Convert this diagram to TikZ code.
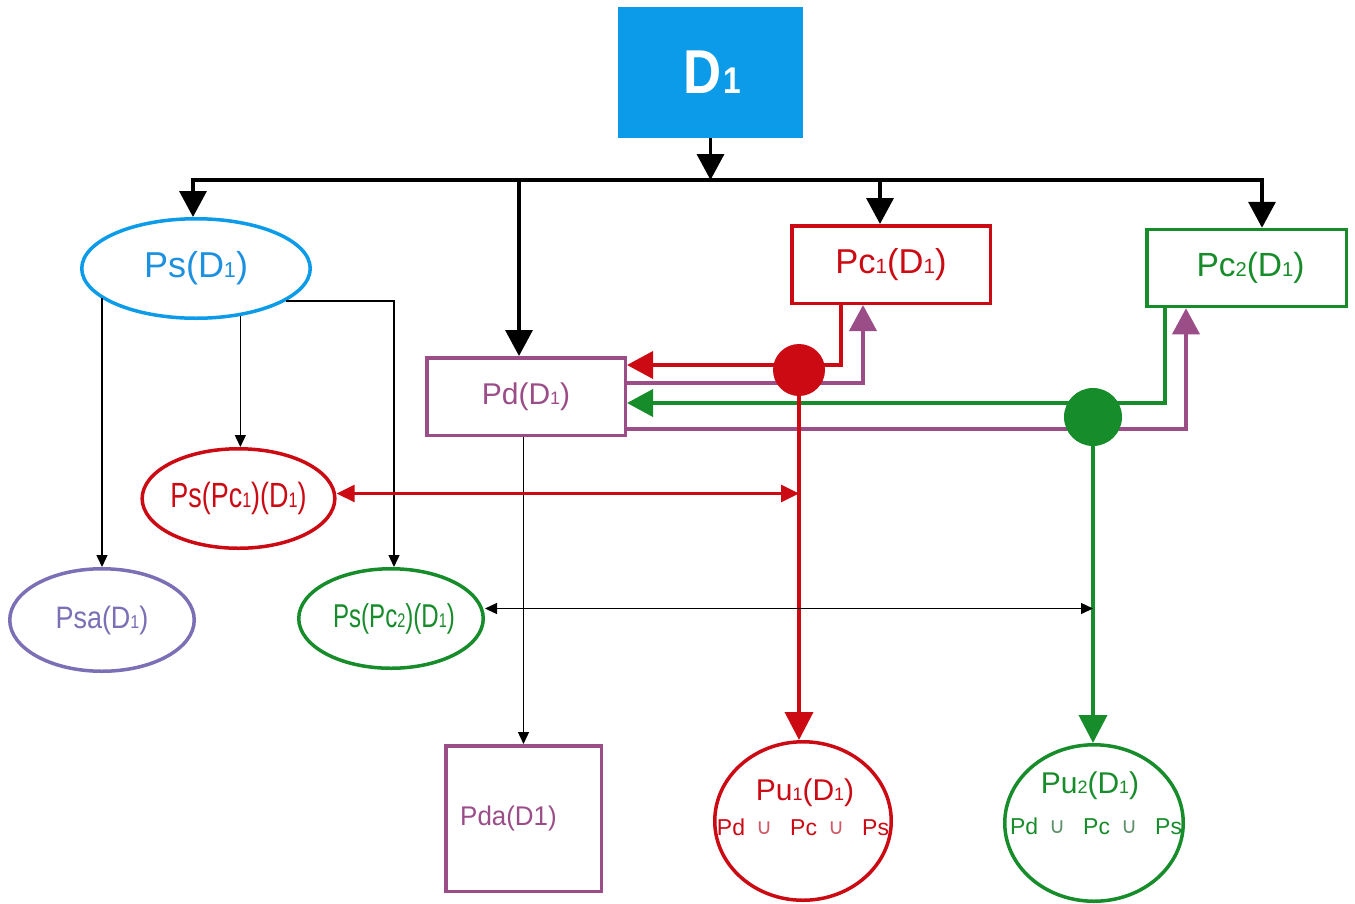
\documentclass[tikz,border=0pt]{standalone}
\usepackage{fontspec}
\setmainfont{Liberation Sans}
\newfontfamily\djv{DejaVu Sans}
\usetikzlibrary{arrows.meta,shapes.geometric,calc}
\definecolor{cblue}{HTML}{0C9BE9}
\definecolor{cbluet}{HTML}{1E90E0}
\definecolor{cred}{HTML}{CC0A14}
\definecolor{cgreen}{HTML}{178C2A}
\definecolor{cpurp}{HTML}{9B4D88}
\definecolor{clav}{HTML}{7C6FB6}
\definecolor{credU}{HTML}{D05A6A}
\definecolor{cgreenU}{HTML}{5F8F6A}
\newcommand{\sbx}[1]{\scalebox{0.6}{#1}}
\newcommand{\fsz}[1]{\fontsize{#1}{#1}\selectfont}
\newcommand{\cupx}[1]{\raisebox{1pt}{\djv\fsz{22}\textcolor{#1}{∪}}}
\begin{document}
\begin{tikzpicture}[x=1pt,y=-1pt,
  boxn/.style={draw,rectangle,line width=3.5pt,inner sep=0pt},
  elln/.style={draw,ellipse,line width=3.5pt,inner sep=0pt},
  bigarr/.style={line width=3.5pt,-{Triangle[length=26pt,width=27pt]}},
  thinarr/.style={line width=1.4pt,-{Triangle[length=12pt,width=11pt]}},
  colline/.style={line width=3.8pt},
  coltip/.style={-{Triangle[length=26pt,width=27pt]}},
]
\useasboundingbox (0,0) rectangle (1355,903);
\fill[white] (0,0) rectangle (1355,903);

% nodes
\node[rectangle,fill=cblue,minimum width=185pt,minimum height=131pt,inner sep=0pt,text=white,font=\fsz{62}\bfseries] (D1) at (710.5,72.5) {\kern4pt\scalebox{0.85}[1]{D\kern2pt\scalebox{0.6}{1}}};
\node[elln,cblue,minimum width=228.5pt,minimum height=99.5pt,text=cbluet,font=\fsz{36}] (Ps) at (196,268.5) {Ps(D\sbx{1})};
\node[boxn,cred,minimum width=198.5pt,minimum height=77.5pt,text=cred,font=\fsz{34.5}] (Pc1) at (891,264.5) {Pc\sbx{1}(D\sbx{1})};
\node[boxn,cgreen,minimum width=199.5pt,minimum height=77pt,text=cgreen,font=\fsz{33.5}] (Pc2) at (1246.5,268) {\kern8pt Pc\sbx{2}(D\sbx{1})};
\node[boxn,cpurp,minimum width=198.5pt,minimum height=77.5pt,text=cpurp,font=\fsz{30}] (Pd) at (526,396.5) {Pd(D\sbx{1})};
\node[elln,cred,minimum width=185.5pt,minimum height=99.5pt,text=cred,font=\fsz{35}] (Psc1) at (238.5,498.5) {\scalebox{0.77}[1]{Ps(Pc\sbx{1})(D\sbx{1})}};
\node[elln,clav,minimum width=184.5pt,minimum height=102.5pt,text=clav,font=\fsz{31}] (Psa) at (102,620) {\scalebox{0.87}[1]{Psa(D\sbx{1})}};
\node[elln,cgreen,minimum width=184.5pt,minimum height=99.5pt,text=cgreen,font=\fsz{33}] (Psc2) at (391,618.5) {\kern6pt\scalebox{0.73}[1]{Ps(Pc\sbx{2})(D\sbx{1})}};
\node[boxn,cpurp,minimum width=155.5pt,minimum height=145.5pt,text=cpurp,font=\fsz{27}] (Pda) at (523.5,818.5) {\scalebox{0.96}[1]{Pda(D1)}\kern30pt\relax};
\node[elln,cred,minimum width=176.5pt,minimum height=158.5pt] (Pu1) at (803,821) {};
\node[elln,cgreen,minimum width=178.5pt,minimum height=156.5pt] (Pu2) at (1094,823) {};
\node[anchor=base,text=cred,font=\fsz{30},inner sep=0pt] (Pu1a) at (805,800) {Pu\sbx{1}(D\sbx{1})};
\node[anchor=base,text=cred,font=\fsz{23},inner sep=0pt] (Pu1b) at (803,835) {Pd\kern11pt\cupx{credU}\kern18pt Pc\kern11pt\cupx{credU}\kern18pt Ps};
\node[anchor=base,text=cgreen,font=\fsz{30},inner sep=0pt] (Pu2a) at (1090,793) {Pu\sbx{2}(D\sbx{1})};
\node[anchor=base,text=cgreen,font=\fsz{23},inner sep=0pt] (Pu2b) at (1096,834) {Pd\kern11pt\cupx{cgreenU}\kern18pt Pc\kern11pt\cupx{cgreenU}\kern18pt Ps};

% bus
\coordinate (bL) at (193,180);
\coordinate (bR) at (1262,180);
\coordinate (bPd) at (519,180);
\coordinate (bPc1) at (880,180);
\draw[line width=3.5pt,line cap=rect] (bL) -- (bR);
\draw[bigarr] (D1.south) -- (D1.south |- bR);
\draw[bigarr] (bL) -- (bL |- Ps.north);
\draw[bigarr] (bPd) -- (bPd |- Pd.north);
\draw[bigarr] (bPc1) -- (bPc1 |- Pc1.north);
\draw[bigarr] (bR) -- (bR |- Pc2.north);

% thin black connectors
\draw[thinarr] (Psa.north |- Ps.197.5) -- (Psa.north);
\draw[thinarr] (Ps.-47.2) -- (Ps.-47.2 |- Psc1.north);
\draw[thinarr] (Ps.-20.3) -| ([xshift=3pt]Psc2.north);
\draw[thinarr] (Pd.south -| Pda.north) -- (Pda.north);

% coloured feedback loops
\coordinate (rc) at (841,365);
\coordinate (pc) at (863,383);
\coordinate (gc) at (1165,403);
\coordinate (pc2) at (1186,429);
\draw[colline,cred,coltip] (Pc1.south -| rc) -- (rc) -- (Pd.east |- rc);
\draw[colline,cpurp,coltip] (Pd.east |- pc) -- (pc) -- (Pc1.south -| pc);
\draw[colline,cgreen,coltip] (Pc2.south -| gc) -- (gc) -- (Pd.east |- gc);
\draw[colline,cpurp,coltip] (Pd.east |- pc2) -- (pc2) -- (Pc2.south -| pc2);

% dots
\node[circle,fill=cred,minimum size=52pt,inner sep=0pt] (dot1) at (799,370) {};
\node[circle,fill=cgreen,minimum size=58pt,inner sep=0pt] (dot2) at (1093,417) {};

\draw[colline,cred,-{Triangle[length=28pt,width=28pt]}] (dot1) -- (dot1 |- Pu1.north);
\draw[colline,cgreen,-{Triangle[length=28pt,width=28pt]}] (dot2) -- (dot2 |- Pu2.north);

% double arrows
\draw[line width=2.8pt,cred,{Triangle[length=18pt,width=17pt]}-{Triangle[length=18pt,width=17pt]}] ([yshift=5pt]Psc1.east) -- ([yshift=5pt]Psc1.east -| dot1);
\draw[line width=1.4pt,{Triangle[length=12pt,width=11pt]}-{Triangle[length=12pt,width=11pt]}] ([yshift=10pt]Psc2.east) -- ([yshift=10pt]Psc2.east -| dot2);
\end{tikzpicture}
\end{document}
